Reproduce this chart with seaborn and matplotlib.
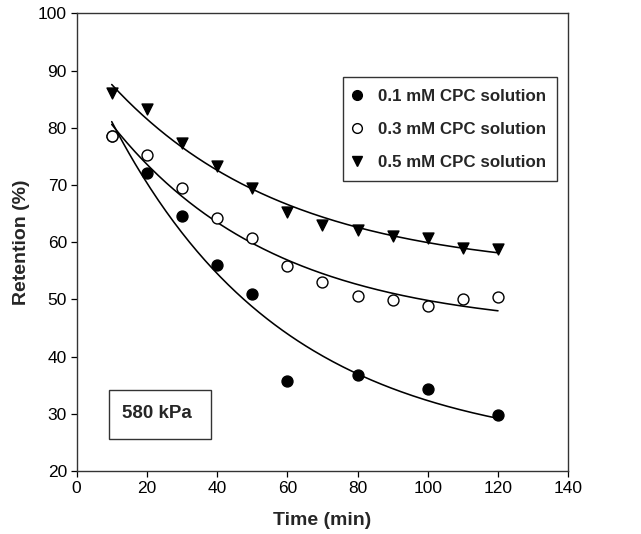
import numpy as np
import pandas as pd
import matplotlib
matplotlib.use("Agg")
import matplotlib.pyplot as plt
from matplotlib.patches import Rectangle
import seaborn as sns

# ---- data ----
time_01 = [10, 20, 30, 40, 50, 60, 80, 100, 120]
ret_01 = [78.6, 72.1, 64.5, 56.0, 51.0, 35.8, 36.7, 34.3, 29.8]

time_03 = [10, 20, 30, 40, 50, 60, 70, 80, 90, 100, 110, 120]
ret_03 = [78.6, 75.3, 69.5, 64.3, 60.8, 55.8, 53.1, 50.6, 49.9, 48.9, 50.0, 50.4]

time_05 = [10, 20, 30, 40, 50, 60, 70, 80, 90, 100, 110, 120]
ret_05 = [86.0, 83.3, 77.3, 73.4, 69.4, 65.2, 63.0, 62.1, 61.1, 60.8, 58.9, 58.8]

labels = ["0.1 mM CPC solution", "0.3 mM CPC solution", "0.5 mM CPC solution"]
x_ticks = [0, 20, 40, 60, 80, 100, 120, 140]
y_ticks = [20, 30, 40, 50, 60, 70, 80, 90, 100]
annotation = "580 kPa"


def fit_decay(t, v):
    """Least-squares fit of v = a + b*exp(-k t); returns fitted curve."""
    t = np.asarray(t, float)
    v = np.asarray(v, float)
    best = None
    for k in np.linspace(0.002, 0.15, 1500):
        A = np.column_stack([np.ones_like(t), np.exp(-k * t)])
        coef, *_ = np.linalg.lstsq(A, v, rcond=None)
        sse = np.sum((A @ coef - v) ** 2)
        if best is None or sse < best[0]:
            best = (sse, k, coef)
    _, k, (a, b) = best
    tt = np.linspace(t.min(), t.max(), 200)
    return tt, a + b * np.exp(-k * tt)


sns.set_theme(style="ticks")
plt.rcParams["font.family"] = ["Liberation Sans", "DejaVu Sans"]

fig = plt.figure(figsize=(6.41, 5.34), dpi=100)
ax = fig.add_axes([0.1195, 0.118, 0.767, 0.857])

series = [
    (time_01, ret_01, "o", "black", labels[0]),
    (time_03, ret_03, "o", "white", labels[1]),
    (time_05, ret_05, "v", "black", labels[2]),
]

for t, v, m, fc, lab in series:
    tt, vv = fit_decay(t, v)
    sns.lineplot(x=tt, y=vv, ax=ax, color="black", lw=1.15, sort=False)

handles = []
for t, v, m, fc, lab in series:
    df = pd.DataFrame({"t": t, "v": v})
    sns.scatterplot(data=df, x="t", y="v", ax=ax, marker=m, s=62,
                    color=fc, edgecolor="black", linewidth=1.0, zorder=3)
    handles.append(plt.Line2D([], [], marker=m, ls="none", markersize=7,
                              markerfacecolor=fc, markeredgecolor="black",
                              markeredgewidth=1.0, label=lab))

ax.set_xlim(0, 140)
ax.set_ylim(20, 100)
ax.set_xticks(x_ticks)
ax.set_yticks(y_ticks)
ax.tick_params(axis="both", direction="out", length=4, width=0.9,
               labelsize=12.5, colors="black", pad=3)
for sp in ax.spines.values():
    sp.set_visible(True)
    sp.set_linewidth(1.0)
    sp.set_color("#333333")

ax.set_xlabel("Time (min)", fontsize=14, fontweight="bold", labelpad=12)
ax.set_ylabel("Retention (%)", fontsize=14, fontweight="bold", labelpad=6)

leg = ax.legend(handles=handles, loc="upper right",
                bbox_to_anchor=(0.9776, 0.860), frameon=True, fancybox=False,
                edgecolor="black", prop=dict(size=12.2, weight="bold"),
                handletextpad=1.15, borderpad=0.68, labelspacing=1.05,
                handlelength=0.2, borderaxespad=0)
leg.get_frame().set_linewidth(1.0)

ax.add_patch(Rectangle((0.0659, 0.0706), 0.2078, 0.1064, transform=ax.transAxes,
                       fc="white", ec="#333333", lw=1.0, zorder=4))
ax.text(0.163, 0.1246, annotation, transform=ax.transAxes, fontsize=13.5,
        fontweight="bold", ha="center", va="center", zorder=5)

fig.savefig("out.png", dpi=100)
